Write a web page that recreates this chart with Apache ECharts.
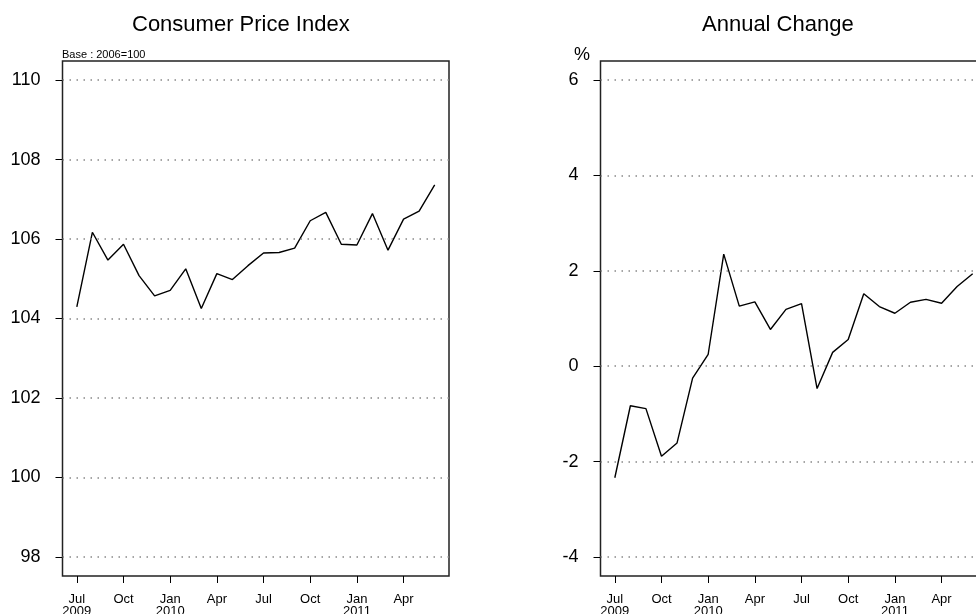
<!DOCTYPE html>
<html lang="en">
<head>
    <meta charset="UTF-8">
    <title>Consumer Price Index</title>
    <style>
        html, body { margin: 0; padding: 0; background: #fff; }
        #chart { width: 976px; height: 614px; }
    </style>
</head>
<body>
<div id="chart"></div>
<script src="https://cdn.jsdelivr.net/npm/echarts@6/dist/echarts.min.js"></script>
<script type="text/javascript">
    // monthly data, Jul 2009 .. Jun 2011
    var months = [0, 1, 2, 3, 4, 5, 6, 7, 8, 9, 10, 11, 12, 13, 14, 15, 16, 17, 18, 19, 20, 21, 22, 23];
    var cpiValues = [104.29, 106.17, 105.47, 105.87, 105.08, 104.57, 104.71, 105.25, 104.25, 105.13, 104.98, 105.33,
        105.65, 105.66, 105.77, 106.46, 106.67, 105.87, 105.85, 106.64, 105.72, 106.50, 106.70, 107.36];
    var changeValues = [-2.34, -0.83, -0.89, -1.89, -1.61, -0.25, 0.25, 2.35, 1.26, 1.35, 0.77, 1.19,
        1.31, -0.47, 0.29, 0.56, 1.52, 1.25, 1.11, 1.34, 1.40, 1.32, 1.67, 1.94];

    var xTickPos = [0, 3, 6, 9, 12, 15, 18, 21];
    var xTickLabels = ['Jul\n2009', 'Oct', 'Jan\n2010', 'Apr', 'Jul', 'Oct', 'Jan\n2011', 'Apr'];
    var cpiTicks = [98, 100, 102, 104, 106, 108, 110];
    var changeTicks = [-4, -2, 0, 2, 4, 6];

    function pad(lo, hi) { // R style 4% range extension
        var d = (hi - lo) * 0.04;
        return [lo - d, hi + d];
    }

    var xRange = pad(months[0], months[months.length - 1]);
    var cpiRange = pad(cpiTicks[0], cpiTicks[cpiTicks.length - 1]);
    var chgRange = pad(changeTicks[0], changeTicks[changeTicks.length - 1]);

    function pairs(ys) {
        return months.map(function (m, i) { return [m, ys[i]]; });
    }

    var FONT = 'Liberation Sans, Arial, sans-serif';

    function xAxisFor(idx) {
        return {
            type: 'value', gridIndex: idx, min: xRange[0], max: xRange[1],
            axisLine: { show: false, onZero: false },
            axisTick: { show: true, inside: false, length: 7, customValues: xTickPos, lineStyle: { color: '#000', width: 1 } },
            axisLabel: {
                customValues: xTickPos, margin: 17, fontSize: 13, lineHeight: 12,
                fontFamily: FONT, color: '#000',
                formatter: function (v) {
                    var k = xTickPos.indexOf(Math.round(v));
                    return k >= 0 ? xTickLabels[k] : '';
                }
            },
            splitLine: { show: false }
        };
    }

    function yAxisFor(idx, range, ticks) {
        return {
            type: 'value', gridIndex: idx, min: range[0], max: range[1],
            axisLine: { show: false, onZero: false },
            axisTick: { show: true, inside: false, length: 7, customValues: ticks, lineStyle: { color: '#000', width: 1 } },
            axisLabel: {
                customValues: ticks, margin: 22, fontSize: 18,
                fontFamily: FONT, color: '#000'
            },
            splitLine: { show: false }
        };
    }

    function gridLines(ticks) { // dotted reference lines at each y tick
        return {
            silent: true, symbol: 'none', label: { show: false },
            lineStyle: { color: '#888', type: [1.5, 5.5], width: 1.5 },
            data: ticks.map(function (t) { return { yAxis: t }; })
        };
    }

    var chart = echarts.init(document.getElementById('chart'), null, { renderer: 'canvas' });
    var option = {
        animation: false,
        backgroundColor: '#fff',
        title: [
            { text: 'Consumer Price Index', left: 132, top: 14, padding: 0,
              textStyle: { fontSize: 22, fontWeight: 'normal', color: '#000', fontFamily: FONT } },
            { text: 'Annual Change', left: 702, top: 14, padding: 0,
              textStyle: { fontSize: 22, fontWeight: 'normal', color: '#000', fontFamily: FONT } },
            { text: 'Base : 2006=100', left: 62, top: 49, padding: 0,
              textStyle: { fontSize: 11, fontWeight: 'normal', color: '#000', fontFamily: FONT } },
            { text: '%', left: 574, top: 46, padding: 0,
              textStyle: { fontSize: 18, fontWeight: 'normal', color: '#000', fontFamily: FONT } }
        ],
        grid: [
            { left: 62.5, top: 61, width: 386.5, height: 515, outerBoundsMode: 'none', containLabel: false,
              show: true, borderColor: '#222', borderWidth: 1.5, backgroundColor: 'transparent' },
            { left: 600.5, top: 61, width: 386.5, height: 515, outerBoundsMode: 'none', containLabel: false,
              show: true, borderColor: '#222', borderWidth: 1.5, backgroundColor: 'transparent' }
        ],
        xAxis: [xAxisFor(0), xAxisFor(1)],
        yAxis: [yAxisFor(0, cpiRange, cpiTicks), yAxisFor(1, chgRange, changeTicks)],
        series: [
            {
                name: 'CPI', type: 'line', xAxisIndex: 0, yAxisIndex: 0,
                data: pairs(cpiValues), showSymbol: false,
                lineStyle: { color: '#000', width: 1.4 },
                markLine: gridLines(cpiTicks)
            },
            {
                name: 'Annual Change', type: 'line', xAxisIndex: 1, yAxisIndex: 1,
                data: pairs(changeValues), showSymbol: false,
                lineStyle: { color: '#000', width: 1.4 },
                markLine: gridLines(changeTicks)
            }
        ]
    };
    chart.setOption(option);
</script>
</body>
</html>
